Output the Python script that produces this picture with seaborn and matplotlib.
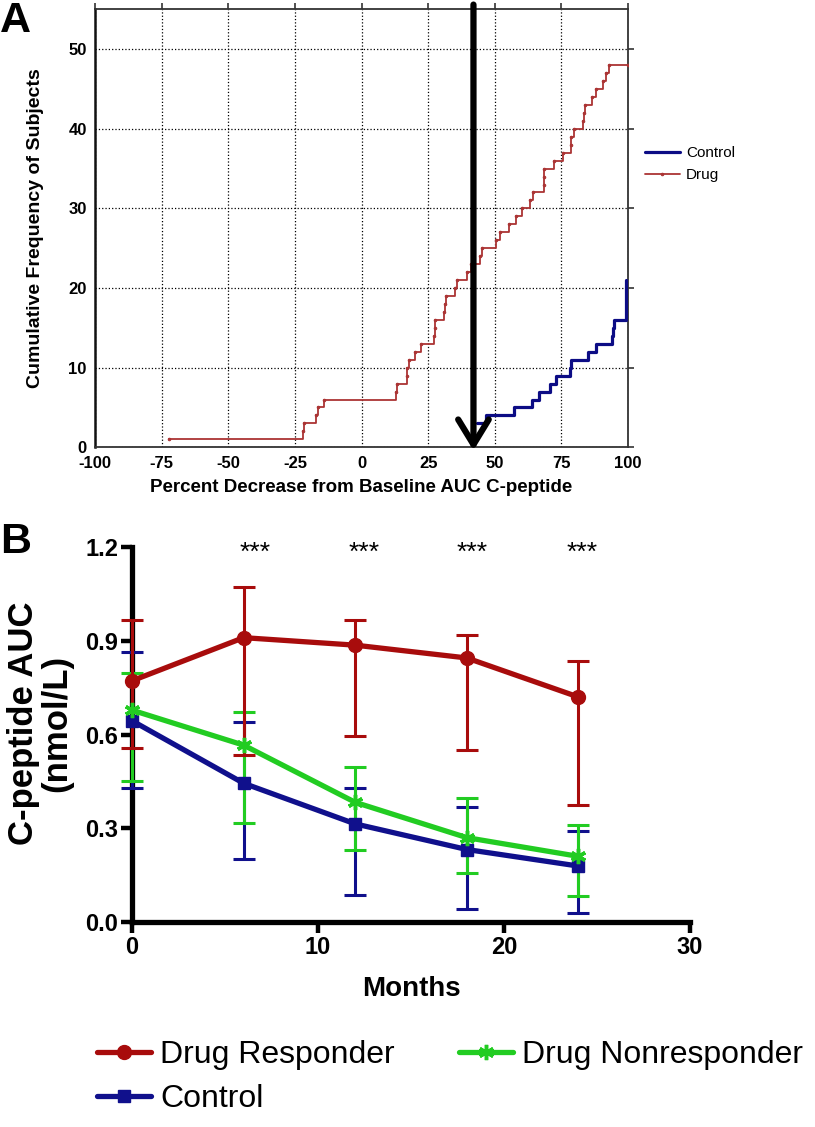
import numpy as np
import pandas as pd
import matplotlib
matplotlib.use('Agg')
import matplotlib.pyplot as plt
from matplotlib.ticker import FormatStrFormatter
import seaborn as sns

# Panel A: percent decrease of each subject
drug_pct = [-72.4, -21.9, -21.5, -17.1, -16.2, -13.9, 12.8, 13.4, 16.9, 17.2,
            17.8, 20.2, 22.5, 27.3, 27.4, 27.5, 30.9, 31.2, 31.6, 34.9,
            35.7, 39.6, 40.9, 44.6, 45.3, 50.6, 51.9, 55.4, 57.8, 60.1,
            63.2, 64.5, 68.3, 68.4, 68.5, 72.2, 75.5, 78.5, 78.6, 79.7,
            83.2, 83.4, 84.0, 86.6, 87.9, 90.6, 91.9, 92.9]
control_pct = [43.4, 43.4, 43.4, 46.8, 57.2, 64.1, 66.6, 70.7, 72.9, 78.3,
               78.5, 85.0, 87.8, 94.0, 94.3, 94.6, 99.4, 99.4, 99.4, 99.4, 99.4]
cutoff = 42

# Panel B: C-peptide AUC (nmol/L), mean with lower / upper bar ends
months = [0, 6, 12, 18, 24]
resp_mean = [0.772, 0.91, 0.886, 0.845, 0.72]
resp_low = [0.556, 0.534, 0.594, 0.551, 0.374]
resp_high = [0.967, 1.072, 0.965, 0.918, 0.836]
nonresp_mean = [0.678, 0.566, 0.383, 0.27, 0.21]
nonresp_low = [0.451, 0.318, 0.23, 0.158, 0.083]
nonresp_high = [0.798, 0.671, 0.496, 0.396, 0.309]
ctrl_mean = [0.644, 0.444, 0.314, 0.232, 0.179]
ctrl_low = [0.428, 0.202, 0.087, 0.041, 0.029]
ctrl_high = [0.864, 0.639, 0.428, 0.367, 0.29]
star_x = [6.6, 12.5, 18.3, 24.2]
star_y = 1.18

drug_c = '#ab3434'
ctrl_c = '#0c0c85'
resp_c = '#a80c0c'
nonresp_c = '#22cc22'
navy_c = '#10108c'

sns.set_style('white')
plt.rcParams['font.family'] = ['Liberation Sans', 'DejaVu Sans']
plt.rcParams['axes.unicode_minus'] = False
for key in ['text.color', 'axes.labelcolor', 'xtick.color', 'ytick.color']:
    plt.rcParams[key] = 'black'


def cum_freq(vals):
    s = pd.Series(vals).value_counts().sort_index().cumsum()
    return s.index.to_numpy(), s.to_numpy()


fig = plt.figure(figsize=(8.15, 11.27), dpi=100)

# ---------------- panel A ----------------
axA = fig.add_axes([0.1166, 0.6031, 0.654, 0.3886])
dx, dy = cum_freq(drug_pct)
dx = np.r_[dx, 100]
dy = np.r_[dy, dy[-1]]
cx, cy = cum_freq(control_pct)

sns.lineplot(x=cx, y=cy, drawstyle='steps-post', color=ctrl_c, lw=2.3,
             estimator=None, sort=False, label='Control', ax=axA, zorder=3)
sns.lineplot(x=dx, y=dy, drawstyle='steps-post', color=drug_c, lw=1.3,
             marker='o', ms=1.8, mec=drug_c, estimator=None, sort=False,
             label='Drug', ax=axA, zorder=3)

axA.set_xlim(-100, 100)
axA.set_ylim(0, 55)
axA.set_xticks(np.arange(-100, 101, 25))
axA.set_yticks(np.arange(0, 51, 10))
axA.grid(True, ls=':', color='black', lw=0.9)
for sp in axA.spines.values():
    sp.set_color('#333333')
    sp.set_linewidth(1.3)
axA.spines['left'].set_color('#111111')
axA.spines['left'].set_linewidth(1.8)
axA.tick_params(axis='both', which='major', direction='out', length=4,
                width=1.2, color='#333333', labelsize=12, pad=2,
                top=True, right=True)
for lbl in axA.get_xticklabels() + axA.get_yticklabels():
    lbl.set_fontweight('bold')
axA.set_xlabel('Percent Decrease from Baseline AUC C-peptide',
               fontsize=13.5, fontweight='bold', labelpad=6)
axA.set_ylabel('Cumulative Frequency of Subjects', fontsize=14,
               fontweight='bold')
axA.yaxis.set_label_coords(-0.095, 0.5)

axA.annotate('', xy=(cutoff, -0.4), xytext=(cutoff, 55.6),
             arrowprops=dict(arrowstyle='->,head_length=0.9,head_width=0.55',
                             lw=4.5, color='black', mutation_scale=20,
                             shrinkA=0, shrinkB=0),
             annotation_clip=False)

hA, lA = axA.get_legend_handles_labels()
axA.legend(hA, lA, loc='upper left', bbox_to_anchor=(0.791, 0.8705),
           bbox_transform=fig.transFigure, frameon=False, fontsize=11,
           handlelength=2.3, handletextpad=0.4, labelspacing=0.55,
           borderpad=0, borderaxespad=0)

# ---------------- panel B ----------------
axB = fig.add_axes([0.162, 0.1819, 0.6847, 0.3327])
groups = [
    ('Control', ctrl_mean, ctrl_low, ctrl_high, navy_c, 's', 9, 1),
    ('Drug Nonresponder', nonresp_mean, nonresp_low, nonresp_high, nonresp_c, (6, 2, 0), 11, 2.5),
    ('Drug Responder', resp_mean, resp_low, resp_high, resp_c, 'o', 10, 1),
]
handles = {}
for name, mean, low, high, col, mk, ms, mew in groups:
    mean = np.array(mean)
    yerr = [mean - np.array(low), np.array(high) - mean]
    eb = axB.errorbar(months, mean, yerr=yerr, fmt='none', ecolor=col,
                      elinewidth=2.2, capsize=8, capthick=2.2, zorder=3)
    for art in eb.get_children():
        art.set_clip_on(False)
    sns.lineplot(x=months, y=mean, color=col, lw=3.8, marker=mk, ms=ms,
                 mec=col, mfc=col, mew=mew, estimator=None, legend=False,
                 ax=axB, zorder=4, clip_on=False, label=name)
    handles[name] = axB.lines[-1]

for sx in star_x:
    axB.text(sx, star_y, '***', ha='center', va='center', fontsize=19)

axB.set_xlim(0, 30)
axB.set_ylim(0, 1.2)
axB.set_xticks([0, 10, 20, 30])
axB.set_yticks([0.0, 0.3, 0.6, 0.9, 1.2])
axB.yaxis.set_major_formatter(FormatStrFormatter('%.1f'))
for side in ['top', 'right']:
    axB.spines[side].set_visible(False)
for side in ['left', 'bottom']:
    axB.spines[side].set_color('black')
    axB.spines[side].set_linewidth(3.8)
axB.tick_params(axis='both', which='major', direction='out', length=8,
                width=3.2, color='black', labelsize=17, pad=2, bottom=True, left=True)
for lbl in axB.get_xticklabels() + axB.get_yticklabels():
    lbl.set_fontweight('bold')
axB.set_xlabel('Months', fontsize=20, fontweight='bold', labelpad=12)
axB.set_ylabel('C-peptide AUC\n(nmol/L)', fontsize=25, fontweight='bold',
               linespacing=1.0)
axB.yaxis.set_label_coords(-0.105, 0.53)

fig.legend([handles['Drug Responder'], handles['Control'], handles['Drug Nonresponder']],
           ['Drug Responder', 'Control', 'Drug Nonresponder'],
           loc='upper left', bbox_to_anchor=(0.119, 0.0772), ncol=2,
           frameon=False, fontsize=23, handlelength=1.7, handletextpad=0.28,
           columnspacing=2.0, labelspacing=0.45, borderpad=0, borderaxespad=0)

fig.text(0.0, 0.999, 'A', fontsize=31, fontweight='bold', ha='left', va='top')
fig.text(0.0, 1 - 522 / 1127, 'B', fontsize=31, fontweight='bold', ha='left', va='top')

fig.savefig('out.png', dpi=100)
